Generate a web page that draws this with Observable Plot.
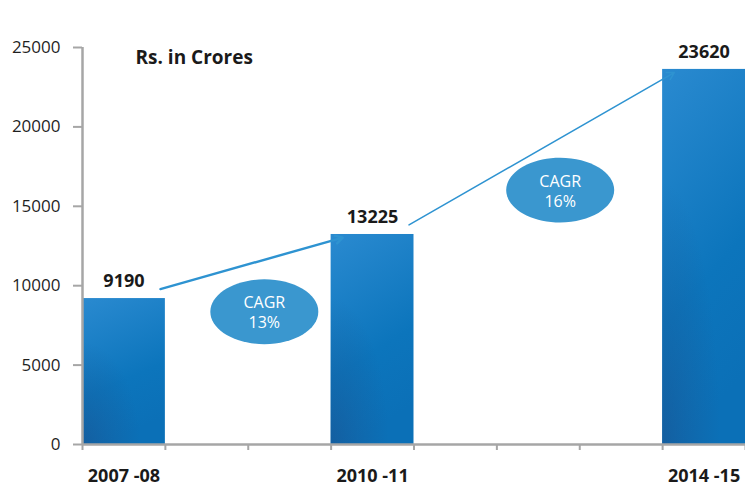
<!DOCTYPE html>
<html>
<head>
<meta charset="utf-8">
<script src="https://cdn.jsdelivr.net/npm/d3@7"></script>
<script src="https://cdn.jsdelivr.net/npm/@observablehq/plot@0.6"></script>
<style>
  html, body { margin: 0; padding: 0; background: #ffffff; }
  #chart { width: 745px; height: 488px; }
</style>
</head>
<body>
<div id="chart"></div>
<script>
// ---- data ----
const periods = ["2007 -08", "2008 -09", "2009 -10", "2010 -11", "2011 -12", "2012 -13", "2013 -14", "2014 -15"];
const barPeriods = ["2007 -08", "2010 -11", "2014 -15"];
const barValues = [9190, 13225, 23620];
const cagrLabels = ["13%", "16%"];
const yTicks = [0, 5000, 10000, 15000, 20000, 25000];
const unitTitle = "Rs. in Crores";

// ---- derived tables ----
const bars = barPeriods.map((p, k) => ({ period: p, i: periods.indexOf(p), value: barValues[k] }));
const growth = cagrLabels.map((c, k) => {
  const a = bars[k], b = bars[k + 1];
  const x1 = a.i + 1 - 0.06, y1 = a.value + 600;
  const x2 = b.i + 0.14, y2 = b.value - 200;
  const t = 0.57;
  return { label: "CAGR\n" + c, x1, y1, x2, y2, cx: x1 + t * (x2 - x1), cy: y1 + t * (y2 - y1), w: k === 0 ? 2.4 : 1.5 };
});

// ellipse symbol for CAGR bubbles
const ellipse = {
  draw(ctx, size) {
    const rx = Math.sqrt(size / Math.PI), ry = rx * 0.6, k = 0.5523;
    ctx.moveTo(rx, 0);
    ctx.bezierCurveTo(rx, ry * k, rx * k, ry, 0, ry);
    ctx.bezierCurveTo(-rx * k, ry, -rx, ry * k, -rx, 0);
    ctx.bezierCurveTo(-rx, -ry * k, -rx * k, -ry, 0, -ry);
    ctx.bezierCurveTo(rx * k, -ry, rx, -ry * k, rx, 0);
    ctx.closePath();
  }
};

const gray = "#a6a6a6";
const blue = "#2e93d1";

const svg = Plot.plot({
  width: 745,
  height: 488,
  marginLeft: 82,
  marginRight: 0,
  marginTop: 47,
  marginBottom: 44,
  style: { fontFamily: "'Open Sans', sans-serif", fontSize: "17px", color: "#1f1f1f", background: "#ffffff" },
  x: { domain: [0, periods.length], axis: null },
  y: { domain: [0, 25000], axis: null },
  marks: [
    Plot.rectY(bars, { x1: "i", x2: d => d.i + 1, y: "value", fill: "url(#barGrad)" }),
    Plot.rectY(bars, { x1: "i", x2: d => d.i + 1, y: "value", fill: "url(#barShade)" }),
    Plot.axisY({ ticks: yTicks, tickFormat: d3.format("d"), tickSize: 9, tickPadding: 13, stroke: gray, strokeWidth: 2, fill: "#1f1f1f", fontSize: 17 }),
    Plot.ruleX([0], { y1: 0, y2: 25000, stroke: gray, strokeWidth: 2.5 }),
    Plot.axisX({ ticks: d3.range(0, periods.length + 1), tickFormat: () => "", tickSize: 6, stroke: gray, strokeWidth: 2 }),
    Plot.ruleY([0], { stroke: gray, strokeWidth: 2.5 }),
    Plot.text(bars, { x: d => d.i + 0.5, y: 0, text: "period", dy: 32, fontWeight: "bold", fontSize: 18, fill: "#1a1a1a" }),
    Plot.text(bars, { x: d => d.i + 0.5, y: "value", text: d => String(d.value), dy: -17, fontWeight: "bold", fontSize: 18, fill: "#1a1a1a" }),
    Plot.arrow(growth, { x1: "x1", y1: "y1", x2: "x2", y2: "y2", stroke: blue, strokeWidth: "w", headLength: 12 }),
    Plot.dot(growth, { x: "cx", y: "cy", dy: 52, r: 54, symbol: ellipse, fill: "#3a97cf", stroke: "none" }),
    Plot.text(growth, { x: "cx", y: "cy", dy: 52, text: "label", fill: "#ffffff", fontSize: 16, lineHeight: 1.25 }),
    Plot.text([unitTitle], { frameAnchor: "top-left", dx: 53, dy: 10, lineAnchor: "middle", textAnchor: "start", fontWeight: "bold", fontSize: 19, fill: "#1a1a1a" })
  ]
});

const defs = document.createElementNS("http://www.w3.org/2000/svg", "defs");
defs.innerHTML = `
  <linearGradient id="barGrad" x1="0" y1="0" x2="0.25" y2="1">
    <stop offset="0" stop-color="#2a8ad0"/>
    <stop offset="0.65" stop-color="#0c75bc"/>
    <stop offset="1" stop-color="#0b70b7"/>
  </linearGradient>
  <radialGradient id="barShade" cx="0" cy="1" r="0.7">
    <stop offset="0" stop-color="#1b4f8c" stop-opacity="0.55"/>
    <stop offset="0.6" stop-color="#1a5896" stop-opacity="0.25"/>
    <stop offset="1" stop-color="#1a5896" stop-opacity="0"/>
  </radialGradient>`;
svg.insertBefore(defs, svg.firstChild);
document.getElementById("chart").appendChild(svg);
</script>
</body>
</html>
